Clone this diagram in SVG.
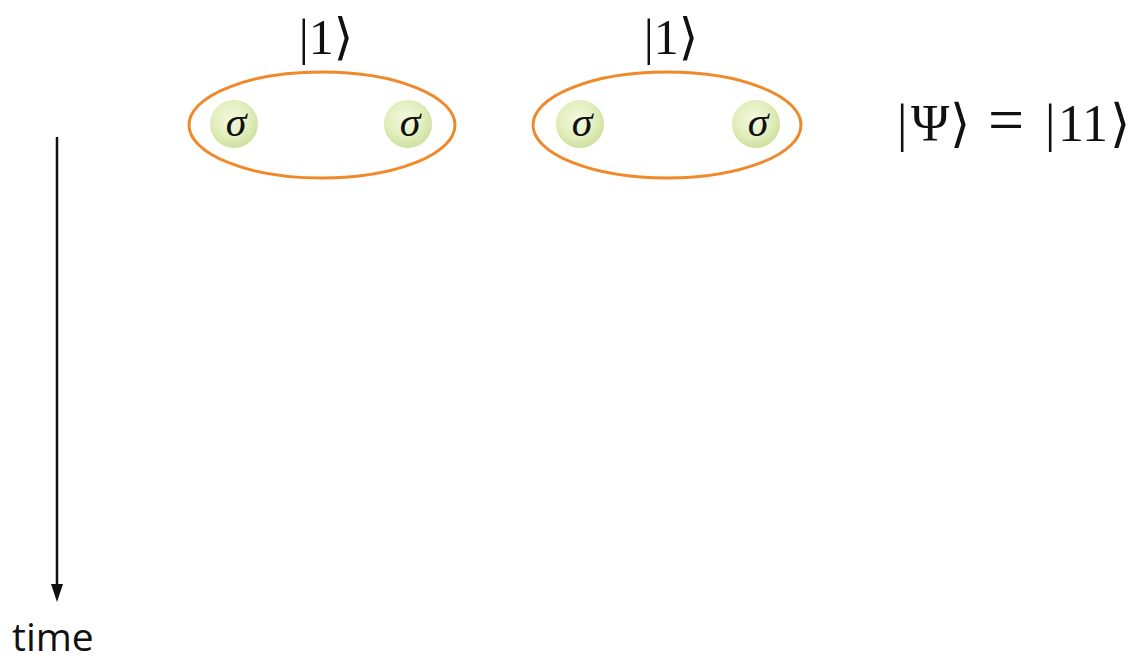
<svg xmlns="http://www.w3.org/2000/svg" width="1134" height="664" viewBox="0 0 1134 664">
<style>
.math{font-family:"Liberation Serif","DejaVu Serif",serif;fill:#111}
.sig{font-family:"Liberation Serif","DejaVu Serif",serif;font-style:italic;font-size:42px;fill:#111;text-anchor:middle}
.pair{fill:none;stroke:#f0892a;stroke-width:3}
.ball{fill:url(#g)}
.lbl{font-family:"Open Sans","DejaVu Sans",sans-serif;font-size:39px;fill:#111}
</style>
<defs>
<radialGradient id="g" cx="0.45" cy="0.4" r="0.6">
<stop offset="0" stop-color="#f4f9e2"/>
<stop offset="0.6" stop-color="#e3efbf"/>
<stop offset="1" stop-color="#cfe0a0"/>
</radialGradient>
<marker id="ah" markerWidth="18" markerHeight="12" refX="4" refY="6" orient="auto" markerUnits="userSpaceOnUse" viewBox="0 0 18 12">
<path d="M0,0 L18,6 L0,12 Z" fill="#111"/>
</marker>
</defs>
<g id="pair1">
<ellipse class="pair" cx="322" cy="125" rx="133" ry="53"/>
<circle class="ball" cx="234" cy="124" r="24"/>
<circle class="ball" cx="408" cy="124" r="24"/>
<text class="sig" x="236" y="136">σ</text>
<text class="sig" x="410" y="136">σ</text>
<text class="math" x="326" y="54" font-size="50" text-anchor="middle">|1⟩</text>
</g>
<g id="pair2">
<ellipse class="pair" cx="667" cy="125" rx="134" ry="53"/>
<circle class="ball" cx="580" cy="124" r="24"/>
<circle class="ball" cx="756" cy="124" r="24"/>
<text class="sig" x="582" y="136">σ</text>
<text class="sig" x="758" y="136">σ</text>
<text class="math" x="671" y="54" font-size="50" text-anchor="middle">|1⟩</text>
</g>
<g id="state">
<text class="math" y="141" font-size="52"><tspan x="897">|</tspan><tspan x="911">Ψ</tspan><tspan x="950">⟩</tspan><tspan x="988" font-size="64">=</tspan><tspan x="1045">|</tspan><tspan x="1058">11</tspan><tspan x="1110">⟩</tspan></text>
</g>
<g id="connectors">
<line x1="57" y1="137" x2="57" y2="588" stroke="#111" stroke-width="2.5" marker-end="url(#ah)"/>
</g>
<g id="time">
<text class="lbl" x="12" y="651">time</text>
</g>
</svg>
